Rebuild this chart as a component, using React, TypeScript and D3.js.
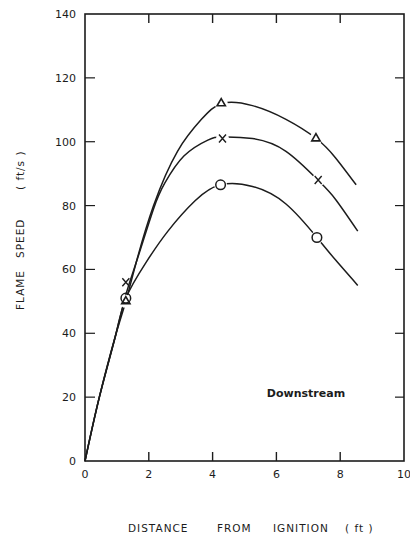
import React from "react";
import * as d3 from "d3";

const xTicks = [0, 2, 4, 6, 8, 10];
const yTicks = [0, 20, 40, 60, 80, 100, 120, 140];

// Curves (distance ft, flame speed ft/s)
const triangleCurve: [number, number][] = [
  [0, 0], [0.45, 20], [0.95, 39], [1.28, 50], [1.6, 62], [2.15, 80], [2.9, 97],
  [3.65, 107], [4.3, 112], [5.25, 111.3], [6.3, 107], [7.25, 101], [7.85, 95], [8.5, 86.5],
];
const crossCurve: [number, number][] = [
  [0, 0], [0.45, 20], [0.95, 39], [1.28, 52], [1.6, 62], [2.15, 79], [2.5, 87],
  [3.1, 95.5], [3.85, 100.5], [4.3, 101.5], [5.25, 101], [6.3, 97], [7.3, 88], [7.85, 82], [8.55, 72],
];
const circleCurve: [number, number][] = [
  [0, 0], [0.45, 20], [0.95, 39], [1.28, 51], [1.9, 62], [2.6, 72], [3.45, 81.5],
  [4.25, 86.5], [5.25, 86], [6.3, 80.5], [7.27, 70], [7.85, 63], [8.55, 55],
];

const triangleMarks: [number, number][] = [[1.28, 50], [4.27, 112], [7.24, 101]];
const crossMarks: [number, number][] = [[1.28, 56], [4.31, 101], [7.31, 88]];
const circleMarks: [number, number][] = [[1.28, 51], [4.25, 86.5], [7.27, 70]];

const xTitleWords = ["DISTANCE", "FROM", "IGNITION", "( ft )"];
const yTitleWords = ["FLAME", "SPEED", "( ft/s )"];
const xTitlePos = [128, 217, 273, 345];
const yTitlePos = [310, 258, 190];

const W = 410, H = 537;
const x = d3.scaleLinear().domain([0, 10]).range([85, 404]);
const y = d3.scaleLinear().domain([0, 140]).range([461, 14]);
const line = d3.line<[number, number]>().x(d => x(d[0])).y(d => y(d[1])).curve(d3.curveNatural);

const ink = "#1c1c1c";
const font = "'DejaVu Sans', sans-serif";

export default function App() {
  const allMarks = [...triangleMarks, ...crossMarks.slice(1), ...circleMarks.slice(1)];
  return (
    <svg width={W} height={H} style={{ position: "absolute", left: 0, top: 0, background: "#fff" }}>
      <rect x={0} y={0} width={W} height={H} fill="#fff" />
      {/* frame */}
      <rect x={x(0)} y={y(140)} width={x(10) - x(0)} height={y(0) - y(140)} fill="none" stroke={ink} strokeWidth={1.6} />
      {xTicks.slice(1, -1).map(t => (
        <g key={"xt" + t}>
          <line x1={x(t)} x2={x(t)} y1={y(0)} y2={y(0) - 9} stroke={ink} strokeWidth={1.4} />
          <line x1={x(t)} x2={x(t)} y1={y(140)} y2={y(140) + 9} stroke={ink} strokeWidth={1.4} />
        </g>
      ))}
      {yTicks.slice(1, -1).map(t => (
        <g key={"yt" + t}>
          <line x1={x(0)} x2={x(0) + 10} y1={y(t)} y2={y(t)} stroke={ink} strokeWidth={1.2} />
          <line x1={x(10)} x2={x(10) - 9} y1={y(t)} y2={y(t)} stroke={ink} strokeWidth={1.2} />
        </g>
      ))}
      {xTicks.map(t => (
        <text key={"xl" + t} x={x(t)} y={y(0) + 17} textAnchor="middle" fontFamily={font} fontSize={11} fill={ink}>{t}</text>
      ))}
      {yTicks.map(t => (
        <text key={"yl" + t} x={x(0) - 9} y={y(t) + 4} textAnchor="end" fontFamily={font} fontSize={11} fill={ink}>{t}</text>
      ))}
      {/* curves */}
      {[triangleCurve, crossCurve, circleCurve].map((c, i) => (
        <path key={"c" + i} d={line(c) || ""} fill="none" stroke={ink} strokeWidth={1.5} />
      ))}
      {/* gaps behind markers */}
      {allMarks.map((m, i) => (
        <circle key={"g" + i} cx={x(m[0])} cy={y(m[1])} r={6.5} fill="#fff" />
      ))}
      {/* markers */}
      {triangleMarks.map((m, i) => (
        <path key={"t" + i} d={d3.symbol(d3.symbolTriangle, 30)() || ""} transform={`translate(${x(m[0])},${y(m[1])})`} fill="none" stroke={ink} strokeWidth={1.6} />
      ))}
      {crossMarks.map((m, i) => (
        <path key={"x" + i} d={`M-3.5,-4L3.5,4M3.5,-4L-3.5,4`} transform={`translate(${x(m[0])},${y(m[1])})`} fill="none" stroke={ink} strokeWidth={1.4} />
      ))}
      {circleMarks.map((m, i) => (
        <circle key={"o" + i} cx={x(m[0])} cy={y(m[1])} r={4.8} fill="none" stroke={ink} strokeWidth={1.5} />
      ))}
      {/* labels */}
      <text x={306} y={397} textAnchor="middle" fontFamily={font} fontSize={11} fontWeight="bold" fill={ink}>Downstream</text>
      {xTitleWords.map((w, i) => (
        <text key={"xw" + i} x={xTitlePos[i]} y={532} fontFamily={font} fontSize={10.5} fill={ink} letterSpacing={1} style={{ whiteSpace: "pre" }}>{w}</text>
      ))}
      {yTitleWords.map((w, i) => (
        <text key={"yw" + i} transform={`translate(24,${yTitlePos[i]}) rotate(-90)`} fontFamily={font} fontSize={10.5} fill={ink} letterSpacing={1} style={{ whiteSpace: "pre" }}>{w}</text>
      ))}
    </svg>
  );
}
